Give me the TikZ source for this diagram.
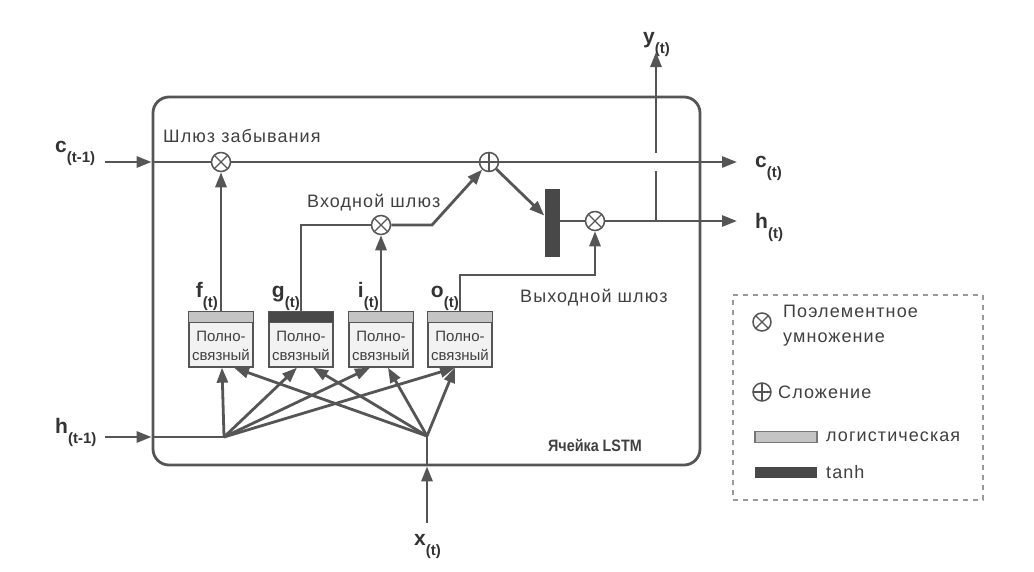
\documentclass[tikz,border=0pt]{standalone}
\usepackage{fontspec}
\setmainfont{Liberation Sans}
\newfontfamily\lsfont[LetterSpace=6]{Liberation Sans}
\usetikzlibrary{arrows.meta,calc}
\definecolor{lc}{HTML}{555555}
\definecolor{sig}{HTML}{C4C4C4}
\definecolor{tnh}{HTML}{484848}
\definecolor{fcfill}{HTML}{F2F2F2}
\definecolor{txt}{HTML}{404040}
\newcommand\vlab[2]{\fontsize{21}{21}\selectfont\textbf{#1}\raisebox{-0.5em}{\fontsize{15}{15}\selectfont\textbf{(#2)}}}
\begin{document}
\begin{tikzpicture}[x=1pt,y=-1pt,
  ln/.style={draw=lc,line width=2.8pt},
  arr/.style={ln,-{Triangle[length=15pt,width=11pt]}},
  opbase/.style={circle,draw=lc,line width=1.5pt,minimum size=19pt,inner sep=0pt,fill=white},
  otimes/.style={opbase,path picture={
    \draw[lc,line width=1.3pt]
      ([shift={(-6.5pt,-6.5pt)}]path picture bounding box.center) -- ([shift={(6.5pt,6.5pt)}]path picture bounding box.center)
      ([shift={(-6.5pt,6.5pt)}]path picture bounding box.center) -- ([shift={(6.5pt,-6.5pt)}]path picture bounding box.center);}},
  oplus/.style={opbase,path picture={
    \draw[lc,line width=1.3pt]
      (path picture bounding box.north) -- (path picture bounding box.south)
      (path picture bounding box.west) -- (path picture bounding box.east);}},
  fc/.style={draw=lc,line width=1.3pt,fill=fcfill,minimum width=64pt,minimum height=55pt,inner sep=0pt},
  fctext/.style={text=txt,align=center,font=\fontsize{15}{19}\selectfont,inner sep=0pt},
  lbl/.style={text=txt,font=\lsfont\fontsize{18}{22}\selectfont,inner sep=0pt},
  vl/.style={text=black!80,inner sep=0pt,anchor=base west},
  gl/.style={text=black!80,inner sep=0pt,anchor=base east}
]
\useasboundingbox (0,0) rectangle (1034,571);
\fill[white] (0,0) rectangle (1034,571);

% cell
\node[draw=lc,line width=2.8pt,rounded corners=16pt,minimum width=547pt,minimum height=368pt,inner sep=0pt] (cell) at (426.5,281) {};
\node[anchor=base east,inner sep=0pt,text=txt,font=\fontsize{16.5}{16.5}\selectfont\bfseries] (celllbl) at (642,451) {\scalebox{0.87}[1]{Ячейка LSTM}};

% operators
\node[otimes] (fx) at (221,162) {};
\node[otimes] (ix) at (381,225) {};
\node[oplus] (plus) at (489,162) {};
\node[otimes] (ox) at (595,221) {};
\node[fill=tnh,minimum width=15pt,minimum height=68pt,inner sep=0pt] (bar) at (552,223) {};

% FC boxes
\foreach \n/\x/\c in {f/221/sig,g/301/tnh,i/381/sig,o/460/sig}{
  \node[fc] (\n box) at (\x,339.5) {};
  \draw[draw=lc,line width=1.3pt,fill=\c] (\n box.north west) rectangle ($(\n box.north east)+(0,11)$);
  \node[fctext] (\n text) at ($(\n box.center)+(0,6)$) {Полно-\\связный};
}
\node[gl] (flbl) at (218,297) {\vlab{f}{t}};
\node[gl] (glbl) at (300,297) {\vlab{g}{t}};
\node[gl] (ilbl) at (379,297) {\vlab{i}{t}};
\node[gl] (olbl) at (459,297) {\vlab{o}{t}};

% text labels
\node[lbl,anchor=base west] (fgate) at (163,142) {Шлюз забывания};
\node[lbl,anchor=base west] (igate) at (307,207) {Входной шлюз};
\node[lbl,anchor=base west] (ogate) at (520,302) {Выходной шлюз};

% coordinates
\coordinate (cin) at (105,162);
\coordinate (cL) at (cell.west |- cin);
\coordinate (cout) at (737,162);
\coordinate (hin) at (105,437);
\coordinate (hL) at (cell.west |- hin);
\coordinate (hj) at (224,437);
\coordinate (xin) at (427,523);
\coordinate (xB) at (cell.south -| xin);
\coordinate (xj) at (427,436);
\coordinate (hout) at (737,221);
\coordinate (yj) at (656,221);
\coordinate (ygap1) at (656,171);
\coordinate (ygap2) at (656,153);
\coordinate (yout) at (656,52);
\coordinate (ibend) at (432,225);
\coordinate (obend1) at (460,275);
\coordinate (obend2) at (595,275);

% external labels
\node[vl] (clbl) at (55,152) {\vlab{c}{t-1}};
\node[vl] (hlbl) at (55,433) {\vlab{h}{t-1}};
\node[vl] (coutlbl) at (755,167) {\vlab{c}{t}};
\node[vl] (houtlbl) at (755,228) {\vlab{h}{t}};
\node[vl] (ylbl) at (643,43) {\vlab{y}{t}};
\node[vl] (xlbl) at (414,545) {\vlab{x}{t}};

% cell state line
\draw[arr] (cin) -- (cL);
\draw[ln] (cL) -- (fx);
\draw[ln] (fx) -- (plus);
\draw[arr] (plus) -- (cout);
% forget gate
\draw[arr] (fbox.north) -- (fx);
% input gate
\draw[ln] (gbox.north) |- (ix);
\draw[arr] (ibox.north) -- (ix);
\draw[arr] (ix) -- (ibend) -- (plus);
% output
\draw[arr] (plus) -- (bar);
\draw[ln] (bar.east |- ox) -- (ox);
\draw[arr] (ox) -- (hout);
\draw[arr] (obox.north) -- (obend1) -- (obend2) -- (ox);
\draw[ln] (yj) -- (ygap1);
\draw[arr] (ygap2) -- (yout);

% inputs
\draw[arr] (hin) -- (hL);
\draw[ln] (hL) -- (hj);
\draw[arr] (xin) -- (xB);
\draw[ln] (xB) -- (xj);
\draw[arr] (hj) -- ($(fbox.south)+(1,0)$);
\draw[arr] (hj) -- ($(gbox.south)+(-4,0)$);
\draw[arr] (hj) -- ($(ibox.south)+(-11,0)$);
\draw[arr] (hj) -- ($(obox.south)+(-5,0)$);
\draw[arr] (xj) -- ($(fbox.south)+(13,0)$);
\draw[arr] (xj) -- ($(gbox.south)+(12,0)$);
\draw[arr] (xj) -- ($(ibox.south)+(7,0)$);
\draw[arr] (xj) -- ($(obox.south)+(-5,0)$);

% legend
\node[draw=lc!60,dashed,line width=1.3pt,dash pattern=on 5pt off 5pt,minimum width=250pt,minimum height=205pt,inner sep=0pt] (legend) at (858,397.5) {};
\node[otimes,minimum size=18pt] (lgx) at (762,322) {};
\node[lbl,anchor=north west,align=left,font=\lsfont\fontsize{18}{25}\selectfont] (lgxt) at (783,305) {Поэлементное\\умножение};
\node[oplus,minimum size=18pt] (lgp) at (762,392) {};
\node[lbl,anchor=west] (lgpt) at (778,392) {Сложение};
\node[draw=lc!80,line width=1.2pt,fill=sig,minimum width=62pt,minimum height=11pt,inner sep=0pt] (lgs) at (786,437) {};
\node[lbl,anchor=west] (lgst) at (826,437) {логистическая};
\node[fill=tnh,minimum width=62pt,minimum height=11pt,inner sep=0pt] (lgt) at (786,472) {};
\node[lbl,anchor=west] (lgtt) at (826,472) {tanh};
\end{tikzpicture}
\end{document}
